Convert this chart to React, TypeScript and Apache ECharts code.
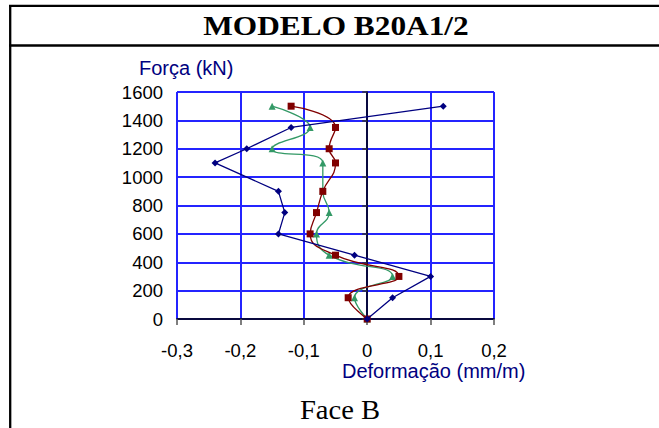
import React, { useEffect, useRef } from "react";
import * as echarts from "echarts";

// Force levels (kN)
const forces = [0, 150, 300, 450, 600, 750, 900, 1100, 1200, 1350, 1500];
// Strain readings (mm/m) for each force level
const strainBlue = [0, 0.04, 0.1, -0.02, -0.14, -0.13, -0.14, -0.24, -0.19, -0.12, 0.12];
const strainRed = [0, -0.03, 0.05, -0.05, -0.09, -0.08, -0.07, -0.05, -0.06, -0.05, -0.12];
const strainGreen = [0, -0.02, 0.04, -0.06, -0.08, -0.06, -0.07, -0.07, -0.15, -0.09, -0.15];

const title = "MODELO B20A1/2";
const subtitle = "Face B";
const yName = "Força (kN)";
const xName = "Deformação (mm/m)";

const sans = '"Liberation Sans", Arial, sans-serif';
const serif = '"Liberation Serif", "Times New Roman", serif';

export default function App() {
  const ref = useRef<HTMLDivElement>(null);
  useEffect(() => {
    const chart = echarts.init(ref.current!, null, { renderer: "svg" });
    const pts = (s: number[]) => s.map((x, i) => [x, forces[i]]);
    const gridLine = { show: true, lineStyle: { color: "#2424ff", width: 2 } };
    chart.setOption({
      animation: false,
      backgroundColor: "#fff",
      grid: { left: 177, top: 92, width: 317, height: 227, containLabel: false },
      xAxis: {
        type: "value",
        min: -0.3,
        max: 0.2,
        interval: 0.1,
        axisLine: { show: true, onZero: false, lineStyle: { color: "#000", width: 1.5 } },
        axisTick: { show: true, length: 6, lineStyle: { color: "#555", width: 1.5 } },
        axisLabel: {
          fontSize: 18.5,
          fontFamily: sans,
          color: "#000",
          margin: 22,
          formatter: (v: number) => String(Math.round(v * 10) / 10).replace(".", ","),
        },
        splitLine: gridLine,
      },
      yAxis: [
        {
          type: "value",
          min: 0,
          max: 1600,
          interval: 200,
          position: "left",
          axisLine: { show: false, onZero: false },
          axisTick: { show: false },
          axisLabel: {
            fontSize: 18.5,
            fontFamily: sans,
            color: "#000",
            margin: 14,
            formatter: (v: number) => String(Math.round(v)),
          },
          splitLine: gridLine,
        },
        {
          type: "value",
          min: 0,
          max: 1600,
          interval: 200,
          position: "left",
          axisLine: { show: true, onZero: true, lineStyle: { color: "#000", width: 1.5 } },
          axisTick: { show: true, length: 5, lineStyle: { color: "#333", width: 1.5 } },
          axisLabel: { show: false },
          splitLine: { show: false },
        },
      ],
      series: [
        {
          type: "line",
          data: pts(strainGreen),
          smooth: 0.5,
          symbol: "triangle",
          symbolSize: 7,
          lineStyle: { color: "#339966", width: 1.3 },
          itemStyle: { color: "#339966" },
          z: 3,
        },
        {
          type: "line",
          data: pts(strainRed),
          smooth: 0.5,
          symbol: "rect",
          symbolSize: 7,
          lineStyle: { color: "#800000", width: 1.3 },
          itemStyle: { color: "#800000" },
          z: 4,
        },
        {
          type: "line",
          data: pts(strainBlue),
          smooth: false,
          symbol: "diamond",
          symbolSize: 7,
          lineStyle: { color: "#000080", width: 1.3 },
          itemStyle: { color: "#000080" },
          z: 5,
        },
      ],
      graphic: [
        { type: "line", shape: { x1: 10.2, y1: 5.8, x2: 10.2, y2: 428 }, style: { stroke: "#000", lineWidth: 2.3 } },
        { type: "line", shape: { x1: 9, y1: 5.8, x2: 659, y2: 5.8 }, style: { stroke: "#000", lineWidth: 2.3 } },
        { type: "line", shape: { x1: 9, y1: 45.5, x2: 659, y2: 45.5 }, style: { stroke: "#000", lineWidth: 2.3 } },
        {
          type: "text",
          x: 336,
          y: 26,
          scaleX: 1.14,
          style: {
            text: title,
            font: `bold 27.5px ${serif}`,
            fill: "#000",
            align: "center",
            textAlign: "center",
            verticalAlign: "middle",
            textVerticalAlign: "middle",
          },
        },
        {
          type: "text",
          x: 340,
          y: 409.5,
          scaleX: 1.06,
          style: {
            text: subtitle,
            font: `27px ${serif}`,
            fill: "#000",
            align: "center",
            textAlign: "center",
            verticalAlign: "middle",
            textVerticalAlign: "middle",
          },
        },
        {
          type: "text",
          x: 139,
          y: 68,
          style: {
            text: yName,
            font: `20px ${sans}`,
            fill: "#000080",
            align: "left",
            textAlign: "left",
            verticalAlign: "middle",
            textVerticalAlign: "middle",
          },
        },
        {
          type: "text",
          x: 342,
          y: 371,
          style: {
            text: xName,
            font: `20px ${sans}`,
            fill: "#000080",
            align: "left",
            textAlign: "left",
            verticalAlign: "middle",
            textVerticalAlign: "middle",
          },
        },
      ],
    });
    return () => chart.dispose();
  }, []);
  return (
    <div
      ref={ref}
      style={{ position: "fixed", left: 0, top: 0, width: 659, height: 428, background: "#fff" }}
    />
  );
}
